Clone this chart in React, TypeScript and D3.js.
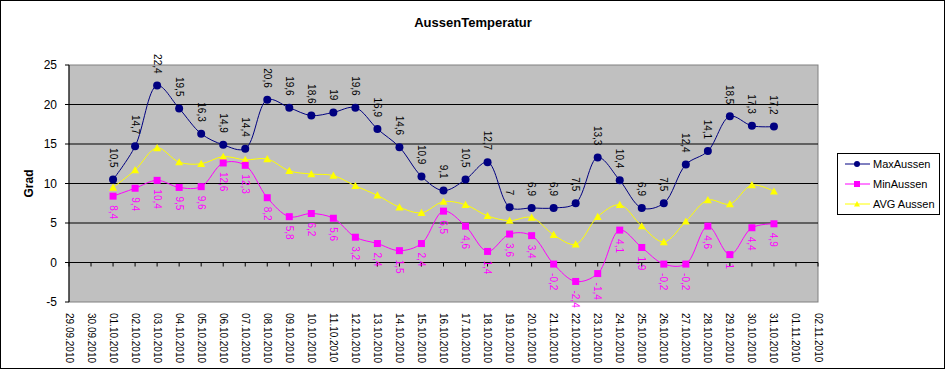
import React from "react";
import { scaleLinear, scalePoint, line, curveCatmullRom } from "d3";

const dates = [
  "29.09.2010", "30.09.2010", "01.10.2010", "02.10.2010", "03.10.2010", "04.10.2010", "05.10.2010",
  "06.10.2010", "07.10.2010", "08.10.2010", "09.10.2010", "10.10.2010", "11.10.2010", "12.10.2010",
  "13.10.2010", "14.10.2010", "15.10.2010", "16.10.2010", "17.10.2010", "18.10.2010", "19.10.2010",
  "20.10.2010", "21.10.2010", "22.10.2010", "23.10.2010", "24.10.2010", "25.10.2010", "26.10.2010",
  "27.10.2010", "28.10.2010", "29.10.2010", "30.10.2010", "31.10.2010", "01.11.2010", "02.11.2010",
];

// values from 01.10.2010 to 31.10.2010
const maxAussen = [
  10.5, 14.7, 22.4, 19.5, 16.3, 14.9, 14.4, 20.6, 19.6, 18.6, 19, 19.6, 16.9, 14.6, 10.9, 9.1,
  10.5, 12.7, 7, 6.9, 6.9, 7.5, 13.3, 10.4, 6.9, 7.5, 12.4, 14.1, 18.5, 17.3, 17.2,
];
const minAussen = [
  8.4, 9.4, 10.4, 9.5, 9.6, 12.6, 12.3, 8.2, 5.8, 6.2, 5.6, 3.2, 2.4, 1.5, 2.4, 6.5,
  4.6, 1.4, 3.6, 3.4, -0.2, -2.4, -1.4, 4.1, 1.9, -0.2, -0.2, 4.6, 1, 4.4, 4.9,
];
const avgAussen = [
  9.5, 11.7, 14.5, 12.7, 12.5, 13.4, 13.0, 13.1, 11.6, 11.2, 11.0, 9.7, 8.5, 7.0, 6.3, 7.7,
  7.3, 5.9, 5.3, 5.7, 3.5, 2.3, 5.8, 7.3, 4.6, 2.6, 5.2, 7.9, 7.4, 9.8, 9.0,
];
const yTicks = [25, 20, 15, 10, 5, 0, -5];

const seriesDates = dates.slice(2, 33);
const FONT = "'Liberation Sans', Arial, sans-serif";
const W = 946;
const H = 371;
const left = 69;
const right = 818;
const top = 65;
const bottom = 302;

const fmt = (v: number) => String(v).replace(".", ",");

export default function App() {
  const x = scalePoint<string>().domain(dates).range([left, right]);
  const y = scaleLinear().domain([-5, 25]).range([bottom, top]);

  const mk = (vals: number[]) =>
    line<number>()
      .x((_, i) => x(seriesDates[i]) as number)
      .y((d) => y(d))
      .curve(curveCatmullRom.alpha(0.5))(vals) as string;

  const tri = (cx: number, cy: number, s: number) =>
    `M${cx},${cy - s}L${cx + s},${cy + s * 0.8}L${cx - s},${cy + s * 0.8}Z`;

  const legendItems = [
    { name: "MaxAussen", color: "#000080", shape: "circle" },
    { name: "MinAussen", color: "#FF00FF", shape: "square" },
    { name: "AVG Aussen", color: "#FFFF00", shape: "tri" },
  ];

  return (
    <svg
      width={W}
      height={H}
      style={{ position: "absolute", left: 0, top: 0, fontFamily: FONT }}
    >
      <rect x={0} y={0} width={W} height={H} fill="#fff" />
      <rect x={0.5} y={0.5} width={944} height={368} fill="none" stroke="#000" />
      <text x={473} y={27} textAnchor="middle" fontSize={13} fontWeight="bold">
        AussenTemperatur
      </text>

      {/* plot area */}
      <rect x={left} y={top} width={right - left} height={bottom - top} fill="#c0c0c0" stroke="#808080" />
      {yTicks.filter((t) => t !== 25 && t !== -5).map((t) => (
        <line key={t} x1={left} x2={right} y1={y(t)} y2={y(t)} stroke="#000" />
      ))}
      <line x1={left} x2={left} y1={top} y2={bottom} stroke="#000" />
      {yTicks.map((t) => (
        <g key={t}>
          <line x1={left - 4} x2={left} y1={y(t)} y2={y(t)} stroke="#000" />
          <text x={57} y={y(t)} dy="0.35em" textAnchor="end" fontSize={12}>
            {t}
          </text>
        </g>
      ))}
      {dates.map((d) => (
        <g key={d}>
          <line x1={x(d)} x2={x(d)} y1={y(0)} y2={y(0) + 4} stroke="#000" />
          <text
            transform={`translate(${x(d)},${bottom + 11}) rotate(90)`}
            dy="0.35em"
            fontSize={10}
          >
            {d}
          </text>
        </g>
      ))}
      <text transform={`translate(33,${(top + bottom) / 2}) rotate(-90)`} textAnchor="middle" fontSize={12} fontWeight="bold">
        Grad
      </text>

      {/* series */}
      <path d={mk(avgAussen)} fill="none" stroke="#FFFF00" strokeWidth={1} />
      <path d={mk(minAussen)} fill="none" stroke="#FF00FF" strokeWidth={1} />
      <path d={mk(maxAussen)} fill="none" stroke="#000080" strokeWidth={1} />
      {avgAussen.map((v, i) => (
        <path key={i} d={tri(x(seriesDates[i]) as number, y(v), 4)} fill="#FFFF00" />
      ))}
      {minAussen.map((v, i) => (
        <rect key={i} x={(x(seriesDates[i]) as number) - 3.5} y={y(v) - 3.5} width={7} height={7} fill="#FF00FF" />
      ))}
      {maxAussen.map((v, i) => (
        <circle key={i} cx={x(seriesDates[i]) as number} cy={y(v)} r={4} fill="#000080" />
      ))}

      {/* data labels */}
      {maxAussen.map((v, i) => (
        <text
          key={i}
          transform={`translate(${x(seriesDates[i])},${y(v) - 12}) rotate(90)`}
          textAnchor="end"
          dy="0.35em"
          fontSize={10}
          fill="#000"
        >
          {fmt(v)}
        </text>
      ))}
      {minAussen.map((v, i) => (
        <text
          key={i}
          transform={`translate(${x(seriesDates[i])},${y(v) + 9}) rotate(90)`}
          textAnchor="start"
          dy="0.35em"
          fontSize={10}
          fill="#FF00FF"
        >
          {fmt(v)}
        </text>
      ))}

      {/* legend */}
      <rect x={837.5} y={153.5} width={102} height={61} fill="#fff" stroke="#000" />
      {legendItems.map((it, i) => {
        const ly = 164 + i * 20;
        return (
          <g key={it.name}>
            <line x1={845} x2={870} y1={ly} y2={ly} stroke={it.color} />
            {it.shape === "circle" && <circle cx={857} cy={ly} r={3} fill={it.color} />}
            {it.shape === "square" && <rect x={854} y={ly - 3} width={6} height={6} fill={it.color} />}
            {it.shape === "tri" && <path d={tri(857, ly, 3)} fill={it.color} />}
            <text x={873} y={ly} dy="0.35em" fontSize={11}>
              {it.name}
            </text>
          </g>
        );
      })}
    </svg>
  );
}
